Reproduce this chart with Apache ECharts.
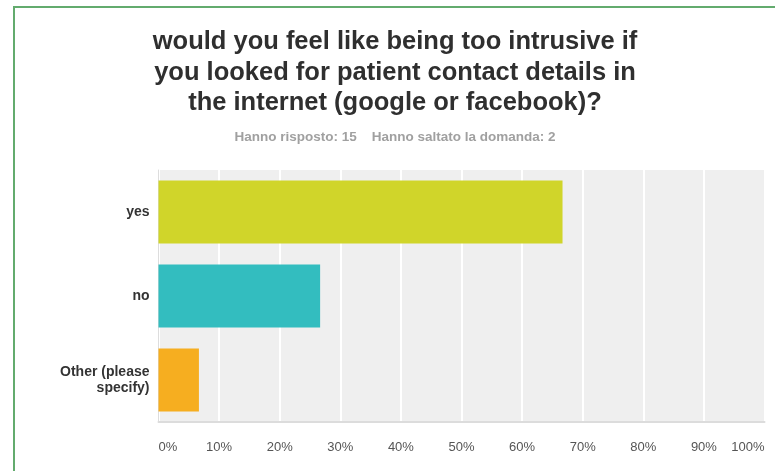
<!DOCTYPE html>
<html>
<head>
<meta charset="utf-8">
<script src="https://cdn.jsdelivr.net/npm/echarts@6/dist/echarts.min.js"></script>
<style>
  html, body { margin: 0; padding: 0; background: #ffffff; }
  #chart { width: 775px; height: 471px; }
</style>
</head>
<body>
<div id="chart"></div>
<script>
// Survey answers, share of respondents (%)
const categories = ['yes', 'no', 'Other (please\nspecify)'];
const shares = [66.67, 26.67, 6.67];
const barColors = ['#d0d52a', '#33bdbf', '#f6ae20'];
const titleText = 'would you feel like being too intrusive if\nyou looked for patient contact details in\nthe internet (google or facebook)?';
const subText = 'Hanno risposto: 15    Hanno saltato la domanda: 2';

const chart = echarts.init(document.getElementById('chart'), null, { renderer: 'canvas' });

chart.setOption({
  animation: false,
  backgroundColor: '#ffffff',
  textStyle: { fontFamily: 'Liberation Sans, Arial, sans-serif' },
  title: {
    text: titleText,
    subtext: subText,
    left: 390,
    top: 22,
    textAlign: 'center',
    itemGap: 12,
    textStyle: {
      fontSize: 25.5,
      fontWeight: 'bold',
      color: '#2f2f2f',
      lineHeight: 30.5
    },
    subtextStyle: {
      fontSize: 13.5,
      fontWeight: 'bold',
      color: '#a0a0a0'
    }
  },
  graphic: [
    {
      type: 'rect',
      shape: { x: 14, y: 7, width: 800, height: 500 },
      style: { fill: 'none', stroke: '#63ab6e', lineWidth: 2 },
      silent: true
    }
  ],
  grid: {
    left: 158.5,
    right: 10.5,
    top: 170,
    bottom: 49,
    show: true,
    backgroundColor: '#efefef',
    borderWidth: 0
  },
  xAxis: {
    type: 'value',
    min: 0,
    max: 100,
    interval: 10,
    axisLine: { show: true, lineStyle: { color: '#dcdcdc', width: 2 } },
    axisTick: { show: false },
    splitLine: { show: true, lineStyle: { color: '#ffffff', width: 2 } },
    axisLabel: {
      formatter: '{value}%',
      color: '#555555',
      fontSize: 13,
      margin: 19,
      alignMinLabel: 'left',
      alignMaxLabel: 'right'
    }
  },
  yAxis: {
    type: 'category',
    data: categories,
    inverse: true,
    axisLine: { show: true, lineStyle: { color: '#dddddd', width: 1 } },
    axisTick: { show: false },
    splitLine: { show: false },
    axisLabel: {
      color: '#333333',
      fontSize: 14,
      fontWeight: 'bold',
      margin: 9,
      align: 'right',
      lineHeight: 16
    }
  },
  series: [
    {
      type: 'bar',
      data: shares.map((v, i) => ({ value: v, itemStyle: { color: barColors[i] } })),
      barWidth: 63,
      silent: true
    }
  ]
});
</script>
</body>
</html>
